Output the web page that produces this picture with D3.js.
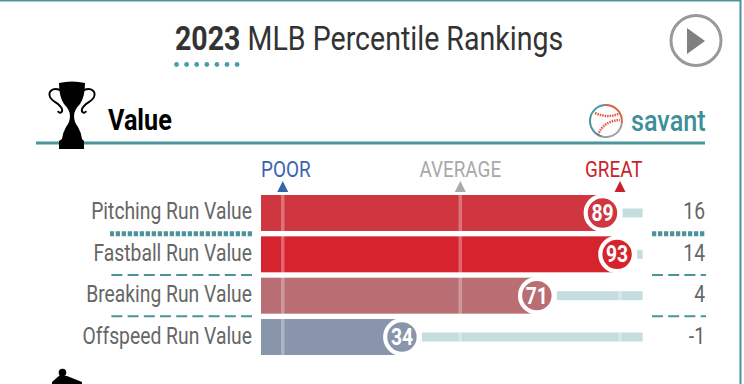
<!DOCTYPE html>
<html>
<head>
<meta charset="utf-8">
<script src="https://cdn.jsdelivr.net/npm/d3@7"></script>
<style>
  html, body { margin: 0; padding: 0; background: #fff; }
  svg { display: block; }
  text { font-family: Roboto, sans-serif; }
</style>
</head>
<body>
<svg id="chart"></svg>
<script>
// values
const metrics = ['Pitching Run Value', 'Fastball Run Value', 'Breaking Run Value', 'Offspeed Run Value'];
const percentiles = [89, 93, 71, 34];
const runValues = [16, 14, 4, -1];
const barColors = ['#cf363f', '#d6242e', '#b86e73', '#8995ab'];
const guideNames = ['POOR', 'AVERAGE', 'GREAT'];
const guideValues = [1.3, 50, 93.8];
const guideColors = ['#3a63ad', '#a9a9a9', '#cb1f2c'];

const width = 744, height = 384;
const teal = '#4a949c';
const squeeze = 0.84; // no Roboto Condensed here, so squash Roboto

const svg = d3.select('#chart').attr('width', width).attr('height', height);

const xscale = d3.scaleLinear().domain([0, 100]).range([278, 642.6]);
const yscale = d3.scaleBand().domain(metrics).range([195, 355]).paddingInner(0.13).paddingOuter(0);
const barLeft = 261;

function label(g, x, y, str, size, fill, anchor, weight){
    return g.append('text')
        .attr('transform', `translate(${x}, ${y}) scale(${squeeze}, 1)`)
        .attr('text-anchor', anchor || 'start')
        .attr('font-size', size)
        .attr('font-weight', weight || 400)
        .attr('fill', fill)
        .text(str);
}

// frame
svg.append('path').attr('d', `M0,0.5H740.5V${height}`).attr('fill', 'none').attr('stroke', teal).attr('stroke-width', 2);

// title
const title = label(svg, 175, 50, '', 34, '#333');
title.append('tspan').attr('font-weight', 700).text('2023');
title.append('tspan').text(' MLB Percentile Rankings');
svg.append('g').selectAll('circle').data(d3.range(7)).join('circle')
    .attr('cx', d => 176.5 + d * 10.1).attr('cy', 64.5).attr('r', 2.4).attr('fill', '#4a9dab');

// play button
svg.append('circle').attr('cx', 696).attr('cy', 40.5).attr('r', 25).attr('fill', 'none').attr('stroke', '#999').attr('stroke-width', 3);
svg.append('path').attr('d', 'M687,28L705,41L687,54Z').attr('fill', '#808080');

// section header
svg.append('line').attr('x1', 36).attr('x2', 705).attr('y1', 143).attr('y2', 143).attr('stroke', teal).attr('stroke-width', 3);
label(svg, 108, 130, 'Value', 30, '#000', 'start', 700);
label(svg, 631, 131, 'savant', 30, '#3d8f98', 'start', 500);

// trophy
const trophy = svg.append('g');
trophy.append('path').attr('fill', '#000')
    .attr('d', 'M59,83Q72,80 85,83Q85,97 80,104Q74,110 74,116Q74,122 78,127Q81,132 82,139L84,141V149H59V141L62,139Q63,132 66,127Q70,122 70,116Q70,110 64,104Q59,97 59,83Z');
trophy.append('path').attr('fill', 'none').attr('stroke', '#000').attr('stroke-width', 1.9)
    .attr('d', 'M60,90C52,87 48,92 50,97C52,102 60,103 62,109C63,113 59,114 58,111');
trophy.append('path').attr('fill', 'none').attr('stroke', '#000').attr('stroke-width', 1.9)
    .attr('d', 'M84,90C92,87 96,92 94,97C92,102 84,103 82,109C81,113 85,114 86,111');

// savant ball
const ball = svg.append('g').attr('transform', 'translate(606, 121)');
const ballArc = d3.arc().innerRadius(15).outerRadius(17);
ball.append('path').attr('d', ballArc({startAngle: -0.1, endAngle: 1.7})).attr('fill', '#d9603c');
ball.append('path').attr('d', ballArc({startAngle: 1.7, endAngle: 3.4})).attr('fill', '#9aa3a3');
ball.append('path').attr('d', ballArc({startAngle: 3.4, endAngle: 6.2})).attr('fill', teal);
ball.append('path').attr('d', 'M-11,-8Q3,-2 14,-8').attr('fill', 'none').attr('stroke', '#e0584a').attr('stroke-width', 2.5).attr('stroke-dasharray', '1.5 1');
ball.append('path').attr('d', 'M-8,14Q-3,0 14,-1').attr('fill', 'none').attr('stroke', '#e0584a').attr('stroke-width', 2.5).attr('stroke-dasharray', '1.5 1');

// next section icon, cut off by the window
svg.append('circle').attr('cx', 62.5).attr('cy', 372.5).attr('r', 3.8).attr('fill', '#000');
svg.append('path').attr('fill', '#000').attr('d', 'M60,375L67,376L72,378L82,382V384H52V382Z');

// guide labels and arrows
const guides = svg.append('g');
const guideAnchors = ['start', 'middle', 'end'];
const guideLabelX = [barLeft, xscale(50), xscale(100)];
guideNames.forEach((name, i) => {
    const gx = xscale(guideValues[i]);
    label(guides, guideLabelX[i], 177, name, 22.5, guideColors[i], guideAnchors[i]);
    guides.append('path').attr('d', `M${gx - 5.5},192L${gx},181L${gx + 5.5},192Z`).attr('fill', guideColors[i]);
});

// tracks
svg.append('g').selectAll('rect').data(metrics).join('rect')
    .attr('x', (d, i) => xscale(percentiles[i]) + 20)
    .attr('y', d => yscale(d) + yscale.bandwidth() / 2 - 4.5)
    .attr('width', (d, i) => Math.max(0, xscale(100) - xscale(percentiles[i]) - 20))
    .attr('height', 9)
    .attr('fill', '#c6dddf');

// bars
svg.append('g').selectAll('rect').data(metrics).join('rect')
    .attr('x', barLeft)
    .attr('y', d => yscale(d))
    .attr('width', (d, i) => xscale(percentiles[i]) - barLeft)
    .attr('height', yscale.bandwidth())
    .attr('fill', (d, i) => barColors[i]);

// guide lines over the bars
svg.append('g').selectAll('line').data(guideValues).join('line')
    .attr('x1', d => xscale(d)).attr('x2', d => xscale(d))
    .attr('y1', 195).attr('y2', 355)
    .attr('stroke', '#fff').attr('stroke-opacity', 0.3).attr('stroke-width', 3.5);

// percentile bubbles
const bubbles = svg.append('g').selectAll('g').data(metrics).join('g')
    .attr('transform', (d, i) => `translate(${xscale(percentiles[i])}, ${yscale(d) + yscale.bandwidth() / 2})`);
bubbles.append('circle').attr('r', 16.8).attr('fill', (d, i) => barColors[i]).attr('stroke', '#fff').attr('stroke-width', 4.2);
bubbles.each(function(d, i){
    label(d3.select(this), 0, 8, percentiles[i], 23, '#fff', 'middle', 700);
});

// row labels and run values
metrics.forEach((m, i) => {
    const cy = yscale(m) + yscale.bandwidth() / 2;
    label(svg, 252, cy + 6.5, m, 23, '#666', 'end');
    label(svg, 705, cy + 6.5, runValues[i], 23, '#666', 'end');
});

// row separators
const seps = svg.append('g').attr('fill', 'none').attr('stroke', teal);
metrics.slice(1).forEach((m, i) => {
    const sy = yscale(m) - 2.7;
    const dash = i === 0 ? '4.3 1.7' : '11 5.2';
    const sw = i === 0 ? 5 : 2;
    seps.append('line').attr('x1', 252).attr('x2', 110).attr('y1', sy).attr('y2', sy).attr('stroke-width', sw).attr('stroke-dasharray', dash);
    seps.append('line').attr('x1', 652).attr('x2', 706).attr('y1', sy).attr('y2', sy).attr('stroke-width', sw).attr('stroke-dasharray', dash);
});
</script>
</body>
</html>
